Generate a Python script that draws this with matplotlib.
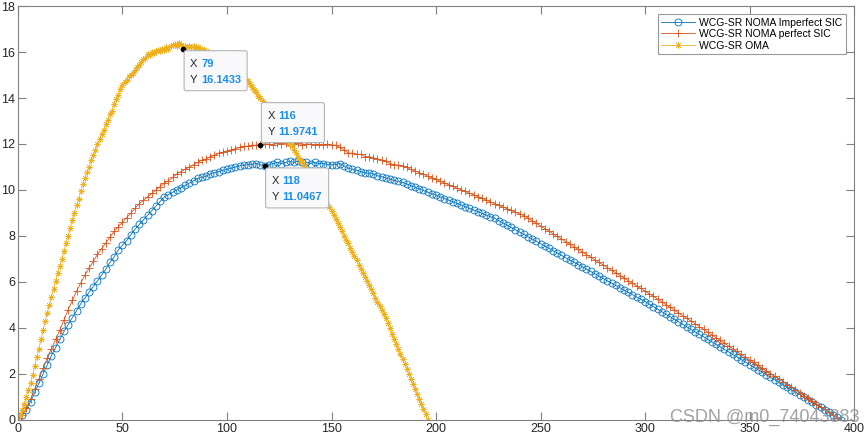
import numpy as np
import matplotlib
matplotlib.use('Agg')
import matplotlib.pyplot as plt
from matplotlib.patches import FancyBboxPatch
from matplotlib.transforms import IdentityTransform

plt.rcParams['font.family'] = ['Liberation Sans', 'DejaVu Sans']

#%% data

# WCG-SR OMA, x = 0..196 step 1
x_oma = np.arange(0, 197, 1)
y_oma = [0.0, 0.2, 0.45, 0.7, 1.0, 1.3, 1.6, 1.95, 2.35, 2.75,
         3.1, 3.5, 3.9, 4.3, 4.65, 5.0, 5.35, 5.7, 6.05, 6.4,
         6.7, 7.0, 7.35, 7.7, 8.0, 8.35, 8.7, 9.0, 9.35, 9.6,
         9.95, 10.25, 10.5, 10.8, 11.0, 11.3, 11.5, 11.75, 12.0, 12.2,
         12.45, 12.6, 12.85, 13.05, 13.3, 13.45, 13.75, 13.95, 14.15, 14.4,
         14.55, 14.7, 14.8, 14.95, 15.0, 15.1, 15.2, 15.35, 15.45, 15.55,
         15.7, 15.75, 15.9, 15.85, 16.0, 15.95, 16.05, 16.1, 16.05, 16.15,
         16.1, 16.2, 16.15, 16.25, 16.3, 16.35, 16.25, 16.4, 16.3, 16.1433,
         16.25, 16.2, 16.25, 16.2, 16.25, 16.15, 16.2, 16.15, 16.15, 16.1,
         16.05, 16.0, 15.95, 15.9, 15.85, 15.8, 15.75, 15.7, 15.65, 15.55,
         15.5, 15.45, 15.35, 15.3, 15.2, 15.15, 15.05, 15.0, 14.9, 14.8,
         14.75, 14.6, 14.5, 14.35, 14.25, 14.1, 14.0, 13.85, 13.75, 13.6,
         13.5, 13.35, 13.2, 13.05, 12.9, 12.75, 12.6, 12.45, 12.3, 12.15,
         12.0, 11.9, 11.75, 11.6, 11.45, 11.3, 11.2, 11.05, 10.9, 10.75,
         10.6, 10.45, 10.3, 10.15, 10.0, 9.85, 9.7, 9.55, 9.4, 9.25,
         9.1, 8.92, 8.74, 8.58, 8.38, 8.2, 8.02, 7.84, 7.68, 7.48,
         7.3, 7.12, 6.94, 6.76, 6.58, 6.4, 6.22, 6.04, 5.86, 5.68,
         5.5, 5.32, 5.14, 4.96, 4.78, 4.6, 4.42, 4.2, 3.98, 3.76,
         3.54, 3.32, 3.1, 2.88, 2.66, 2.44, 2.22, 2.0, 1.78, 1.56,
         1.34, 1.12, 0.9, 0.68, 0.46, 0.24, 0.02]

# WCG-SR NOMA, x = 0..394 step 2
x_noma = np.arange(0, 395, 2)
y_perfect = [0.0, 0.2, 0.5, 0.9, 1.35, 1.8, 2.25, 2.7, 3.1, 3.5,
             3.9, 4.35, 4.8, 5.2, 5.6, 5.95, 6.3, 6.6, 6.9, 7.2,
             7.45, 7.7, 7.95, 8.2, 8.4, 8.6, 8.8, 9.0, 9.2, 9.4,
             9.55, 9.7, 9.85, 10.0, 10.15, 10.3, 10.4, 10.55, 10.7, 10.8,
             10.9, 11.0, 11.1, 11.2, 11.3, 11.35, 11.45, 11.5, 11.6, 11.65,
             11.7, 11.75, 11.8, 11.85, 11.9, 11.9, 11.95, 11.95, 11.9741, 12.0,
             12.0, 11.95, 12.05, 12.0, 12.05, 11.95, 12.0, 12.05, 11.95, 12.0,
             12.0, 11.95, 12.0, 11.95, 12.0, 11.95, 11.95, 11.85, 11.75, 11.6,
             11.6, 11.55, 11.55, 11.45, 11.45, 11.4, 11.35, 11.3, 11.25, 11.15,
             11.1, 11.08, 11.05, 10.98, 10.9, 10.83, 10.76, 10.68, 10.61, 10.53,
             10.46, 10.38, 10.31, 10.23, 10.16, 10.08, 10.01, 9.94, 9.86, 9.79,
             9.71, 9.64, 9.56, 9.49, 9.41, 9.34, 9.26, 9.19, 9.11, 9.04,
             8.96, 8.89, 8.78, 8.66, 8.55, 8.44, 8.32, 8.21, 8.1, 7.98,
             7.87, 7.76, 7.64, 7.53, 7.42, 7.3, 7.19, 7.08, 6.96, 6.85,
             6.74, 6.62, 6.51, 6.4, 6.28, 6.17, 6.06, 5.94, 5.83, 5.72,
             5.6, 5.49, 5.38, 5.26, 5.14, 5.02, 4.9, 4.78, 4.66, 4.54,
             4.42, 4.3, 4.18, 4.06, 3.94, 3.82, 3.7, 3.58, 3.46, 3.34,
             3.22, 3.1, 2.98, 2.86, 2.74, 2.62, 2.5, 2.38, 2.26, 2.14,
             2.02, 1.9, 1.78, 1.66, 1.54, 1.42, 1.3, 1.18, 1.06, 0.94,
             0.82, 0.7, 0.58, 0.46, 0.34, 0.22, 0.1, 0.0]
y_imperfect = [0.0, 0.2, 0.45, 0.8, 1.2, 1.6, 2.0, 2.4, 2.8, 3.15,
               3.5, 3.85, 4.15, 4.45, 4.75, 5.05, 5.3, 5.55, 5.8, 6.05,
               6.3, 6.55, 6.85, 7.1, 7.4, 7.6, 7.8, 8.05, 8.3, 8.5,
               8.7, 8.9, 9.1, 9.3, 9.5, 9.7, 9.8, 9.9, 10.0, 10.1,
               10.2, 10.3, 10.4, 10.5, 10.55, 10.6, 10.7, 10.75, 10.8, 10.85,
               10.9, 10.95, 11.0, 11.05, 11.08, 11.1, 11.12, 11.15, 11.1, 11.0467,
               11.1, 11.15, 11.2, 11.15, 11.2, 11.25, 11.2, 11.25, 11.2, 11.2,
               11.15, 11.2, 11.15, 11.15, 11.1, 11.1, 11.1, 11.15, 11.05, 10.95,
               10.9, 10.85, 10.8, 10.75, 10.72, 10.7, 10.62, 10.58, 10.52, 10.47,
               10.42, 10.37, 10.33, 10.26, 10.19, 10.12, 10.05, 9.98, 9.91, 9.84,
               9.77, 9.7, 9.63, 9.56, 9.49, 9.42, 9.35, 9.27, 9.2, 9.13,
               9.06, 8.99, 8.91, 8.84, 8.77, 8.67, 8.57, 8.47, 8.37, 8.27,
               8.17, 8.07, 7.97, 7.87, 7.77, 7.67, 7.57, 7.46, 7.36, 7.26,
               7.16, 7.06, 6.96, 6.86, 6.76, 6.66, 6.56, 6.46, 6.36, 6.26,
               6.15, 6.05, 5.95, 5.85, 5.75, 5.65, 5.55, 5.45, 5.35, 5.25,
               5.15, 5.04, 4.93, 4.82, 4.71, 4.6, 4.49, 4.38, 4.27, 4.16,
               4.05, 3.94, 3.83, 3.72, 3.62, 3.51, 3.4, 3.29, 3.18, 3.07,
               2.96, 2.85, 2.74, 2.63, 2.52, 2.41, 2.3, 2.19, 2.08, 1.97,
               1.86, 1.75, 1.64, 1.53, 1.42, 1.31, 1.21, 1.1, 0.99, 0.88,
               0.77, 0.66, 0.55, 0.44, 0.33, 0.22, 0.11, 0.0]

labels = ['WCG-SR NOMA Imperfect SIC', 'WCG-SR NOMA perfect SIC', 'WCG-SR OMA']

# data tips: (x, y, box below the point?)
tips_x = [79, 116, 118]
tips_y = [16.1433, 11.9741, 11.0467]
tips_below = [True, False, True]

#%% plot
c_blue, c_orange, c_yellow = '#0072BD', '#D95319', '#EDB120'
c_axis = '#808080'

fig = plt.figure(figsize=(8.65, 4.38), dpi=100)
ax = fig.add_axes([0.0208, 0.0411, 0.9665, 0.9452])

ax.plot(x_noma, y_imperfect, color=c_blue, lw=0.6, marker='o', ms=5, mfc='none', mew=0.6, label=labels[0])
ax.plot(x_noma, y_perfect, color=c_orange, lw=0.6, marker='+', ms=5.5, mew=0.6, label=labels[1])
ax.plot(x_oma, y_oma, color=c_yellow, lw=0.6, marker=(8, 2, 0), ms=4.5, mew=0.4, label=labels[2])

ax.set_xlim(0, 400)
ax.set_ylim(0, 18)
ax.set_xticks(np.arange(0, 401, 50))
ax.set_yticks(np.arange(0, 19, 2))
ax.tick_params(direction='in', length=5.8, width=0.8, top=True, right=True,
               labelsize=9, color=c_axis, labelcolor='#262626', pad=2)
for s in ax.spines.values():
    s.set_color(c_axis)
    s.set_linewidth(0.8)

leg = ax.legend(loc='upper right', bbox_to_anchor=(0.99, 0.981), borderaxespad=0,
                fontsize=7.5, frameon=True, fancybox=False, handlelength=3.2,
                handletextpad=0.4, borderpad=0.35, labelspacing=0.15)
leg.get_frame().set_edgecolor(c_axis)
leg.get_frame().set_linewidth(0.8)

# data tips, drawn in pixel offsets from the data point
for tx, ty, below in zip(tips_x, tips_y, tips_below):
    px, py = ax.transData.transform((tx, ty))
    w, h = 63, 40
    x0 = px + 1
    y0 = py - 2 - h if below else py + 2
    box = FancyBboxPatch((x0, y0), w, h, boxstyle='round,pad=0,rounding_size=2',
                         fc='#F9F9FC', ec='#B5B5B5', lw=0.8, transform=IdentityTransform(), zorder=5)
    fig.add_artist(box)
    ax.plot(tx, ty, 'o', color='black', ms=3, zorder=6)
    top = y0 + h
    fig.text(x0 + 6, top - 13, 'X', transform=IdentityTransform(), fontsize=8, color='#262626',
             va='center', zorder=7)
    fig.text(x0 + 17, top - 13, str(tx), transform=IdentityTransform(), fontsize=8,
             fontweight='bold', color='#1A8FE8', va='center', zorder=7)
    fig.text(x0 + 6, top - 29, 'Y', transform=IdentityTransform(), fontsize=8, color='#262626',
             va='center', zorder=7)
    fig.text(x0 + 17, top - 29, '%.4f' % ty, transform=IdentityTransform(), fontsize=8,
             fontweight='bold', color='#1A8FE8', va='center', zorder=7)

fig.text(0.884, 0.046, 'CSDN @m0_74043383', fontsize=13, color='#8a8a8a', alpha=0.8,
         ha='center', va='center')

fig.savefig('out.png', dpi=100)
